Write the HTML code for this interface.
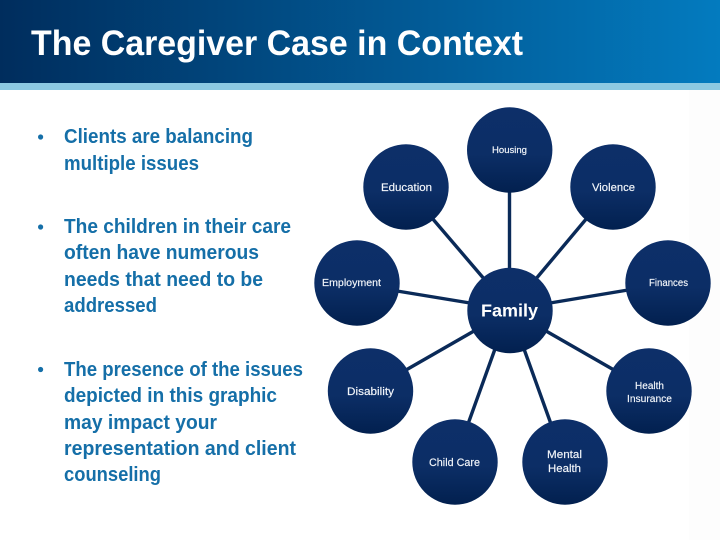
<!DOCTYPE html>
<html><head><meta charset="utf-8"><style>html,body{margin:0;padding:0;background:#fff}svg{display:block}text{font-family:"Liberation Sans",sans-serif}</style></head><body>
<svg width="720" height="540" viewBox="0 0 720 540" xmlns="http://www.w3.org/2000/svg">
<defs>
<linearGradient id="h" x1="0" x2="1" y1="0" y2="0"><stop offset="0" stop-color="#002d5d"/><stop offset="1" stop-color="#037bbf"/></linearGradient>
<linearGradient id="c" x1="0" x2="0" y1="0" y2="1"><stop offset="0" stop-color="#0d2f69"/><stop offset="0.55" stop-color="#0c2e66"/><stop offset="1" stop-color="#02204f"/></linearGradient>
</defs>
<rect width="720" height="540" fill="#fff"/>
<rect x="689" y="90" width="31" height="450" fill="#fdfdfd"/>
<rect width="720" height="83" fill="url(#h)"/>
<rect y="83" width="720" height="7" fill="#8cc9e2"/>
<text x="31" y="55" font-size="35" font-weight="bold" fill="#fff" textLength="492" lengthAdjust="spacingAndGlyphs">The Caregiver Case in Context</text>

<g fill="#156fa8" font-size="20" font-weight="bold">
<circle cx="40.6" cy="137" r="2.6"/><circle cx="40.6" cy="227" r="2.6"/><circle cx="40.6" cy="369.5" r="2.6"/>
<text x="64" y="143" textLength="189" lengthAdjust="spacingAndGlyphs">Clients are balancing</text>
<text x="64" y="170" textLength="135" lengthAdjust="spacingAndGlyphs">multiple issues</text>
<text x="64" y="233" textLength="227" lengthAdjust="spacingAndGlyphs">The children in their care</text>
<text x="64" y="259" textLength="195" lengthAdjust="spacingAndGlyphs">often have numerous</text>
<text x="64" y="286" textLength="199" lengthAdjust="spacingAndGlyphs">needs that need to be</text>
<text x="64" y="312" textLength="93" lengthAdjust="spacingAndGlyphs">addressed</text>
<text x="64" y="376" textLength="239" lengthAdjust="spacingAndGlyphs">The presence of the issues</text>
<text x="64" y="402" textLength="213" lengthAdjust="spacingAndGlyphs">depicted in this graphic</text>
<text x="64" y="429" textLength="153" lengthAdjust="spacingAndGlyphs">may impact your</text>
<text x="64" y="455" textLength="232" lengthAdjust="spacingAndGlyphs">representation and client</text>
<text x="64" y="481" textLength="97" lengthAdjust="spacingAndGlyphs">counseling</text>
</g>

<g stroke="#0a2a58" stroke-width="3.4" fill="none">
<line x1="509.5" y1="190" x2="509.5" y2="270"/>
<line x1="432" y1="218" x2="485" y2="280"/>
<line x1="587" y1="218" x2="535" y2="280"/>
<line x1="397" y1="291" x2="470" y2="303"/>
<line x1="628" y1="290" x2="550" y2="303"/>
<line x1="406" y1="370" x2="474" y2="331"/>
<line x1="614" y1="370" x2="546" y2="331"/>
<line x1="468" y1="424" x2="495" y2="349"/>
<line x1="551" y1="424" x2="524" y2="349"/>
</g>

<g fill="url(#c)">
<circle cx="509.7" cy="150" r="42.7"/>
<circle cx="406" cy="187" r="42.7"/>
<circle cx="613" cy="187" r="42.7"/>
<circle cx="357" cy="283" r="42.7"/>
<circle cx="668" cy="283" r="42.7"/>
<circle cx="510" cy="310.5" r="42.7"/>
<circle cx="370.5" cy="391" r="42.7"/>
<circle cx="649" cy="391" r="42.7"/>
<circle cx="455" cy="462" r="42.7"/>
<circle cx="565" cy="462" r="42.7"/>
</g>

<g fill="#f4f7fb" stroke="#f4f7fb" stroke-width="0.15" font-size="10">
<text x="492" y="153" font-size="9" textLength="35" lengthAdjust="spacingAndGlyphs">Housing</text>
<text x="381" y="191" font-size="11" textLength="51" lengthAdjust="spacingAndGlyphs">Education</text>
<text x="592" y="191" font-size="11" textLength="43" lengthAdjust="spacingAndGlyphs">Violence</text>
<text x="322" y="286" font-size="10" textLength="59" lengthAdjust="spacingAndGlyphs">Employment</text>
<text x="649" y="286" font-size="10" textLength="39" lengthAdjust="spacingAndGlyphs">Finances</text>
<text x="481" y="316.5" font-size="17.5" font-weight="bold" fill="#fff" stroke="none" textLength="57" lengthAdjust="spacingAndGlyphs">Family</text>
<text x="347" y="395" font-size="11" textLength="47" lengthAdjust="spacingAndGlyphs">Disability</text>
<text x="635" y="389" font-size="10" textLength="29" lengthAdjust="spacingAndGlyphs">Health</text>
<text x="627" y="402" font-size="10" textLength="45" lengthAdjust="spacingAndGlyphs">Insurance</text>
<text x="429" y="466" font-size="11" textLength="51" lengthAdjust="spacingAndGlyphs">Child Care</text>
<text x="547" y="458" font-size="11" textLength="35" lengthAdjust="spacingAndGlyphs">Mental</text>
<text x="548" y="472" font-size="11" textLength="33" lengthAdjust="spacingAndGlyphs">Health</text>
</g>
</svg>
</body></html>
